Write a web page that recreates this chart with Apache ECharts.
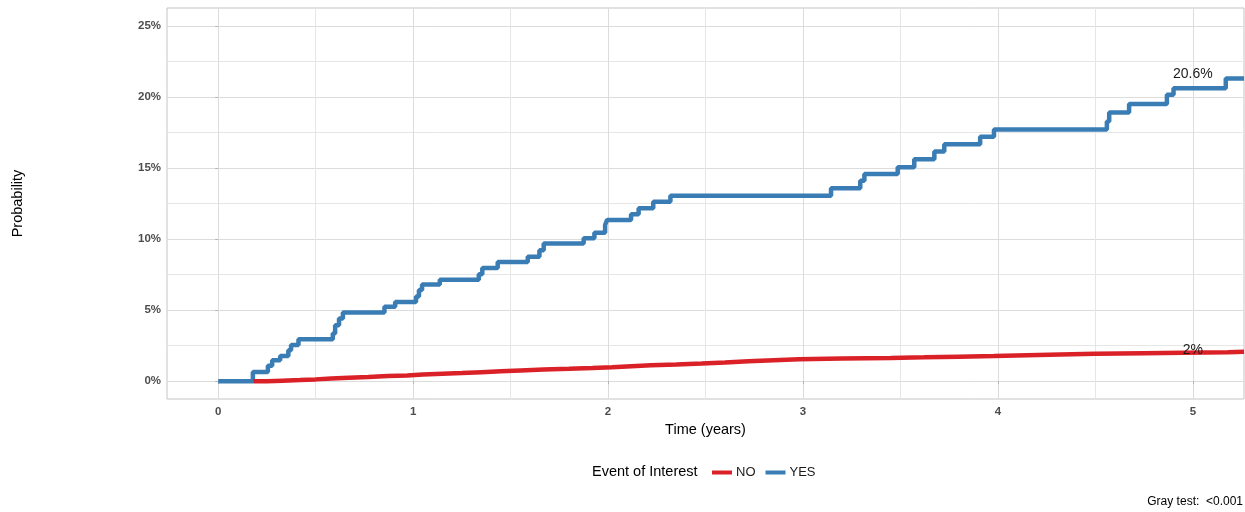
<!DOCTYPE html>
<html>
<head>
<meta charset="utf-8">
<script src="https://cdn.jsdelivr.net/npm/echarts@6/dist/echarts.min.js"></script>
<style>
  html,body{margin:0;padding:0;background:#fff;}
  #chart{width:1245px;height:512px;}
</style>
</head>
<body>
<div id="chart"></div>
<script>
// cumulative incidence, event of interest = YES (blue)
var yesTime=[0,0.178,0.255,0.277,0.318,0.36,0.374,0.412,0.588,0.60,0.62,0.64,0.853,0.908,1.015,1.03,1.046,1.137,1.337,1.355,1.434,1.588,1.648,1.67,1.875,1.93,1.985,1.995,2.118,2.157,2.232,2.32,3.144,3.294,3.315,3.486,3.571,3.674,3.725,3.909,3.98,4.559,4.571,4.673,4.867,4.901,5.169,5.2625];
var yesProb=[0,0.65,1.08,1.48,1.78,2.18,2.54,2.96,3.36,3.94,4.41,4.84,5.23,5.58,5.96,6.41,6.8,7.13,7.53,7.96,8.38,8.75,9.22,9.69,10.05,10.45,10.99,11.34,11.74,12.16,12.63,13.05,13.57,14.1,14.58,15.05,15.61,16.15,16.67,17.2,17.7,18.26,18.9,19.5,20.14,20.6,21.3,21.3];
// event of interest = NO (red)
var noTime=[0.18,0.25,0.33,0.42,0.5,0.58,0.67,0.77,0.87,0.97,1.05,1.15,1.25,1.35,1.45,1.55,1.67,1.8,1.92,2.02,2.12,2.22,2.35,2.48,2.6,2.72,2.85,2.98,3.2,3.45,3.62,3.8,3.98,4.15,4.32,4.5,4.75,4.95,5.18,5.2625];
var noProb=[0,0.04,0.08,0.13,0.2,0.25,0.3,0.36,0.41,0.47,0.53,0.58,0.64,0.7,0.76,0.82,0.87,0.93,0.99,1.06,1.12,1.18,1.25,1.32,1.4,1.48,1.55,1.6,1.64,1.68,1.73,1.78,1.83,1.88,1.93,1.97,2.0,2.03,2.07,2.07];

var xTicks=[0,1,2,3,4,5];
var xGrid=[0,0.5,1,1.5,2,2.5,3,3.5,4,4.5,5];
var yTicks=[0,5,10,15,20,25];
var yGrid=[0,2.5,5,7.5,10,12.5,15,17.5,20,22.5,25];
var labelTime=5;

var FONT='Liberation Sans, Arial, sans-serif';
var MAJOR='#dcdcdc', MINOR='#e6e6e6';
var RED='#DA2128', BLUE='#3A7DB5';

function pairs(t,v){
	return t.map(function(x,i){return [x,v[i]];});
}
function stepAt(t,v,x){
	var val=v[0];
	for(var i=0;i<t.length;i++){
		if(t[i]<=x){val=v[i];}
	}
	return val;
}
function pctText(v){
	return (Math.round(v*10)/10)+'%';
}

var yesAt=stepAt(yesTime,yesProb,labelTime);
var noAt=stepAt(noTime,noProb,labelTime);

var chart=echarts.init(document.getElementById('chart'));
chart.setOption({
	animation:false,
	textStyle:{fontFamily:FONT},
	grid:{left:167,right:1,top:8,bottom:113,show:true,borderColor:'#c4c4c4',borderWidth:1,backgroundColor:'transparent'},
	legend:{
		data:['NO','YES'],
		left:707,
		top:461,
		icon:'rect',
		itemWidth:20,
		itemHeight:4,
		itemGap:10,
		textStyle:{fontSize:13,color:'#1a1a1a',fontFamily:FONT,padding:[0,0,0,-1]}
	},
	graphic:[
		{type:'text',left:592,top:464,style:{text:'Event of Interest',fontSize:14.5,fill:'#000',fontFamily:FONT}},
		{type:'text',right:2,top:496,style:{text:'Gray test:  <0.001',fontSize:12,fill:'#000',fontFamily:FONT}}
	],
	xAxis:[
		{
			type:'value',min:-0.2625,max:5.2625,
			axisLine:{show:false},
			axisLabel:{show:false},
			axisTick:{show:false,customValues:xGrid},
			splitLine:{show:true,lineStyle:{color:[MAJOR,MINOR],width:1}}
		},
		{
			type:'value',min:-0.2625,max:5.2625,position:'bottom',
			axisLine:{show:false},
			axisTick:{show:true,length:3,customValues:xTicks,lineStyle:{color:'#b3b3b3'}},
			axisLabel:{customValues:xTicks,fontSize:11.5,fontWeight:'bold',color:'#4d4d4d',margin:7,fontFamily:FONT},
			splitLine:{show:false},
			name:'Time (years)',nameLocation:'middle',nameGap:23,
			nameTextStyle:{fontSize:14.5,color:'#000',fontFamily:FONT}
		}
	],
	yAxis:[
		{
			type:'value',min:-1.25,max:26.25,
			axisLine:{show:false},
			axisLabel:{show:false},
			axisTick:{show:false,customValues:yGrid},
			splitLine:{show:true,lineStyle:{color:[MAJOR,MINOR],width:1}}
		},
		{
			type:'value',min:-1.25,max:26.25,position:'left',
			axisLine:{show:false},
			axisTick:{show:true,length:3,customValues:yTicks,lineStyle:{color:'#b3b3b3'}},
			axisLabel:{customValues:yTicks,fontSize:11.5,fontWeight:'bold',color:'#4d4d4d',margin:6,fontFamily:FONT,
				formatter:function(v){return v+'%';}},
			splitLine:{show:false},
			name:'Probability',nameLocation:'middle',nameGap:142,
			nameTextStyle:{fontSize:14.5,color:'#000',fontFamily:FONT}
		}
	],
	series:[
		{
			name:'YES',type:'line',step:'end',
			data:pairs(yesTime,yesProb),
			showSymbol:false,symbol:'none',
			lineStyle:{color:BLUE,width:4.5},
			itemStyle:{color:BLUE},
			markPoint:{
				symbol:'circle',symbolSize:0,silent:true,
				label:{show:true,position:'inside',offset:[0,-14],formatter:pctText(yesAt),fontSize:14,color:'#1a1a1a',fontFamily:FONT},
				data:[{coord:[labelTime,yesAt]}]
			}
		},
		{
			name:'NO',type:'line',step:'end',
			data:pairs(noTime,noProb),
			showSymbol:false,symbol:'none',
			lineStyle:{color:RED,width:4.5},
			itemStyle:{color:RED},
			markPoint:{
				symbol:'circle',symbolSize:0,silent:true,
				label:{show:true,position:'inside',offset:[0,-2],formatter:pctText(noAt),fontSize:14,color:'#1a1a1a',fontFamily:FONT},
				data:[{coord:[labelTime,noAt]}]
			}
		}
	]
});
</script>
</body>
</html>
